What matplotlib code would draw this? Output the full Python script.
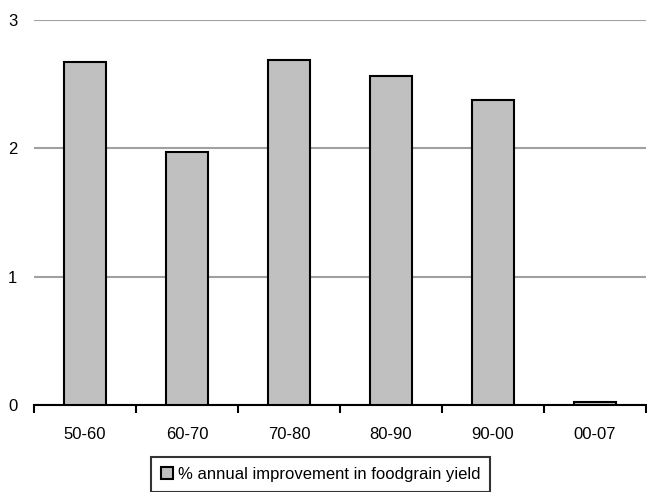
import matplotlib.pyplot as plt
import numpy as np

plt.rcParams['font.family'] = ['Liberation Sans', 'DejaVu Sans']

periods = ["50-60", "60-70", "70-80", "80-90", "90-00", "00-07"]
improvement = [2.67, 1.97, 2.69, 2.56, 2.38, 0.02]
series_label = "% annual improvement in foodgrain yield"

fig = plt.figure(figsize=(6.47, 4.92), dpi=100)
ax = fig.add_axes([34 / 647, 87 / 492, 612 / 647, 385 / 492])

x = np.arange(len(periods))
ax.bar(x, improvement, width=0.41, color='#c0c0c0', edgecolor='black',
       linewidth=1.5, label=series_label, zorder=3)

ax.set_xlim(-0.5, len(periods) - 0.5)
ax.set_ylim(0, 3)
ax.set_yticks([0, 1, 2, 3])
ax.yaxis.grid(True, color='#a0a0a0', linewidth=1.5, zorder=0)
ax.tick_params(axis='y', length=0, pad=12, labelsize=12)

ax.set_xticks(x)
ax.set_xticklabels(periods, fontsize=12)
ax.set_xticks(np.arange(len(periods) + 1) - 0.5, minor=True)
ax.tick_params(axis='x', which='major', length=0, pad=16)
ax.tick_params(axis='x', which='minor', length=6, width=1.5, direction='out')

for side in ['top', 'right', 'left']:
    ax.spines[side].set_visible(False)
ax.spines['bottom'].set_linewidth(1.5)

leg = ax.legend(loc='upper left', bbox_to_anchor=(151 / 647, 35 / 492),
                bbox_transform=fig.transFigure, frameon=True, fancybox=False,
                edgecolor='black', fontsize=12, handlelength=0.7,
                handleheight=0.7, handletextpad=0.3, borderpad=0.6,
                borderaxespad=0)
leg.get_frame().set_linewidth(1.5)

fig.savefig("out.png", dpi=100)
